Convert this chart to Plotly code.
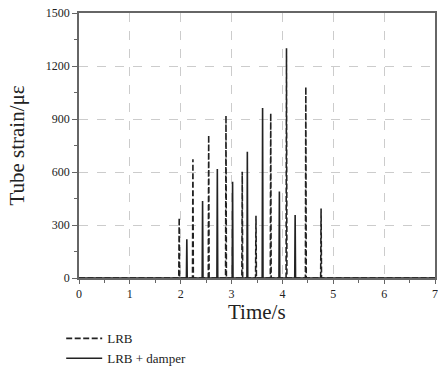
import plotly.graph_objects as go

# Data
lrb_time = [1.97, 2.24, 2.55, 2.89, 3.21, 3.48, 3.77, 4.08, 4.46, 4.76]
lrb_peak = [340, 672, 809, 920, 602, 353, 932, 1300, 1082, 394]
damper_time = [2.12, 2.43, 2.72, 3.02, 3.31, 3.61, 3.94, 4.25]
damper_peak = [219, 436, 617, 545, 715, 962, 489, 357]

x_ticks = [0, 1, 2, 3, 4, 5, 6, 7]
y_ticks = [0, 300, 600, 900, 1200, 1500]

HALF = 0.008  # half width of each strain pulse


def pulses(times, peaks, t0=0.0, t1=7.0):
    xs, ys = [t0], [0]
    for t, p in zip(times, peaks):
        xs += [t - HALF, t, t + HALF]
        ys += [0, p, 0]
    xs.append(t1)
    ys.append(0)
    return xs, ys


fig = go.Figure()
x1, y1 = pulses(lrb_time, lrb_peak)
fig.add_trace(go.Scatter(x=x1, y=y1, mode="lines", name="LRB",
                         line=dict(color="#222222", width=1.6, dash="6px,2.5px")))
x2, y2 = pulses(damper_time, damper_peak)
fig.add_trace(go.Scatter(x=x2, y=y2, mode="lines", name="LRB + damper",
                         line=dict(color="#222222", width=1.6)))

font_serif = "Liberation Serif"
axis_common = dict(
    showline=True, linecolor="#666666", linewidth=1.5, mirror=True,
    ticks="outside", tickcolor="#666666", tickwidth=1,
    showgrid=True, gridcolor="#cccccc", griddash="dash", gridwidth=1,
    zeroline=False, automargin=False,
    tickfont=dict(family=font_serif, size=12, color="#222222"),
)

fig.update_xaxes(
    range=[0, 7], tickvals=x_ticks, ticklen=4,
    minor=dict(dtick=0.5, ticks="outside", ticklen=3, tickcolor="#666666", showgrid=False),
    **axis_common,
)
fig.update_yaxes(
    range=[0, 1500], tickvals=y_ticks, ticklen=5,
    minor=dict(dtick=150, ticks="outside", ticklen=3, tickcolor="#666666", showgrid=False),
    title=dict(text="Tube strain/με", font=dict(family=font_serif, size=21, color="#222222")),
    **axis_common,
)

# x-axis title placed as a paper annotation just below the tick labels
fig.add_annotation(text="Time/s", xref="paper", yref="paper", x=0.5, y=-0.13,
                   xanchor="center", yanchor="middle", showarrow=False,
                   font=dict(family=font_serif, size=21, color="#222222"))

fig.update_layout(
    width=438, height=370,
    margin=dict(l=79, r=3, t=13, b=92),
    plot_bgcolor="white", paper_bgcolor="white",
    font=dict(family=font_serif, color="#222222"),
    showlegend=True,
    legend=dict(x=-0.05, y=0.126, xref="paper", yref="container",
                xanchor="left", yanchor="top",
                font=dict(family=font_serif, size=13, color="#222222"),
                bgcolor="rgba(0,0,0,0)", tracegroupgap=0, itemwidth=36),
)

# Remove the browser's default page margin so the figure sits at (0, 0).
fig.write_html("out.html",
               config={"displayModeBar": False},
               post_script="document.body.style.margin='0';document.body.style.overflow='hidden';")
